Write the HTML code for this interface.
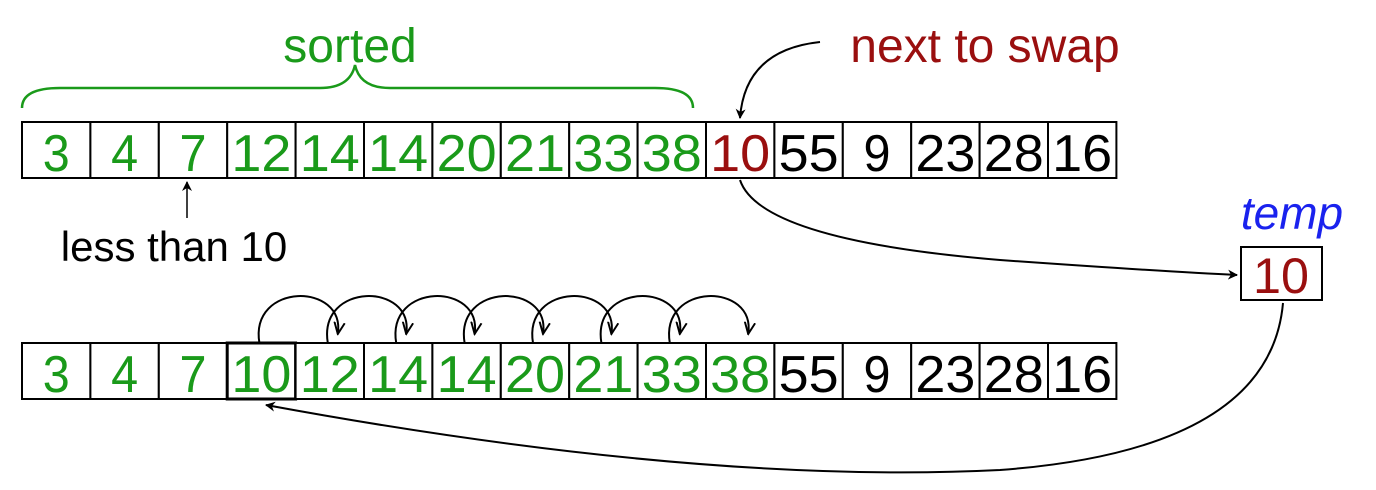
<!DOCTYPE html>
<html><head><meta charset="utf-8"><style>
html,body{margin:0;padding:0;background:#fff;}
svg{display:block;font-family:"Liberation Sans",sans-serif;}
</style></head><body>
<svg id="s" width="1376" height="490" viewBox="0 0 1376 490">
<defs>
<marker id="ah" viewBox="0 0 10 10" refX="9" refY="5" markerWidth="10" markerHeight="10" orient="auto-start-reverse" markerUnits="userSpaceOnUse"><path d="M0,0 L10,5 L0,10 L3,5 z" fill="#000"/></marker>
<marker id="ah2" viewBox="0 0 10 10" refX="9" refY="5" markerWidth="13" markerHeight="13" orient="auto" markerUnits="userSpaceOnUse"><path d="M0,1 L9,5 L0,9" fill="none" stroke="#000" stroke-width="1.5"/></marker>
</defs>
<g id="top"></g>
<g id="bot"></g>
<path d="M22,108 Q22,88 60,88 L320,88 Q350,88 355,65 Q360,88 390,88 L655,88 Q693,88 693,108" fill="none" stroke="#1a9a1a" stroke-width="2.5"/>
<text x="350" y="62" font-size="48" fill="#1a9a1a" text-anchor="middle">sorted</text>
<text x="985" y="62" font-size="48" fill="#9a0f0f" text-anchor="middle">next to swap</text>
<path d="M820,42 Q745,50 740,118" fill="none" stroke="#000" stroke-width="2" marker-end="url(#ah)"/>
<path d="M187,218 L187,182" fill="none" stroke="#000" stroke-width="1.5" marker-end="url(#ah)"/>
<text x="174" y="261" font-size="42" fill="#000" text-anchor="middle">less than 10</text>
<text x="1292" y="229" font-size="46" fill="#1a22ee" font-style="italic" text-anchor="middle">temp</text>
<rect x="1241" y="247" width="81" height="53" fill="#fff" stroke="#000" stroke-width="2"/>
<text x="1281" y="293" font-size="50" fill="#9a0f0f" text-anchor="middle" textLength="56" lengthAdjust="spacingAndGlyphs">10</text>
<path d="M740,180 Q760,240 1000,260 Q1170,272 1237,275" fill="none" stroke="#000" stroke-width="2" marker-end="url(#ah)"/>
<path d="M1283,303 Q1270,450 1000,470 Q700,485 266,405" fill="none" stroke="#000" stroke-width="2" marker-end="url(#ah)"/>
<g id="arcs"></g>
</svg>
<script>
const topValues=[3,4,7,12,14,14,20,21,33,38,10,55,9,23,28,16];
const botValues=[3,4,7,10,12,14,14,20,21,33,38,55,9,23,28,16];
const sortedCount=10;
const insertPos=3;
const NS="http://www.w3.org/2000/svg";
const x0=22,cw=68.4;
function cx(i){return x0+i*cw;}
function row(g,vals,y,colorFn){
  vals.forEach((v,i)=>{
    const r=document.createElementNS(NS,'rect');
    r.setAttribute('x',cx(i));r.setAttribute('y',y);r.setAttribute('width',cw);r.setAttribute('height',56);
    r.setAttribute('fill','#fff');r.setAttribute('stroke','#000');r.setAttribute('stroke-width',(i===insertPos&&g.id==='bot')?3:2);
    
    
    g.appendChild(r);
    const t=document.createElementNS(NS,'text');
    t.setAttribute('x',cx(i)+cw/2);t.setAttribute('y',y+49);t.setAttribute('font-size','52');
    t.setAttribute('text-anchor','middle');t.setAttribute('fill',colorFn(i));
    if(String(v).length>1){t.setAttribute('textLength','60');t.setAttribute('lengthAdjust','spacingAndGlyphs');}
    else{t.setAttribute('textLength','27');t.setAttribute('lengthAdjust','spacingAndGlyphs');}
    
    
    t.textContent=v;g.appendChild(t);
  });
}
row(document.getElementById('top'),topValues,122,i=>i<sortedCount?'#1a9a1a':(i===sortedCount?'#9a0f0f':'#000'));
row(document.getElementById('bot'),botValues,343,i=>i<=sortedCount?'#1a9a1a':'#000');
const arcs=document.getElementById('arcs');
for(let i=insertPos;i<sortedCount;i++){
  const a=cx(i)+cw/2-2,b=cx(i+1)+cw/2+8;
  const p=document.createElementNS(NS,'path');
  p.setAttribute('d',`M${a},343 C${a-10},282 ${b+8},282 ${b},334`);
  p.setAttribute('fill','none');p.setAttribute('stroke','#000');p.setAttribute('stroke-width','2');
  p.setAttribute('marker-end','url(#ah2)');
  
  
  arcs.appendChild(p);
}
</script>
</body></html>
